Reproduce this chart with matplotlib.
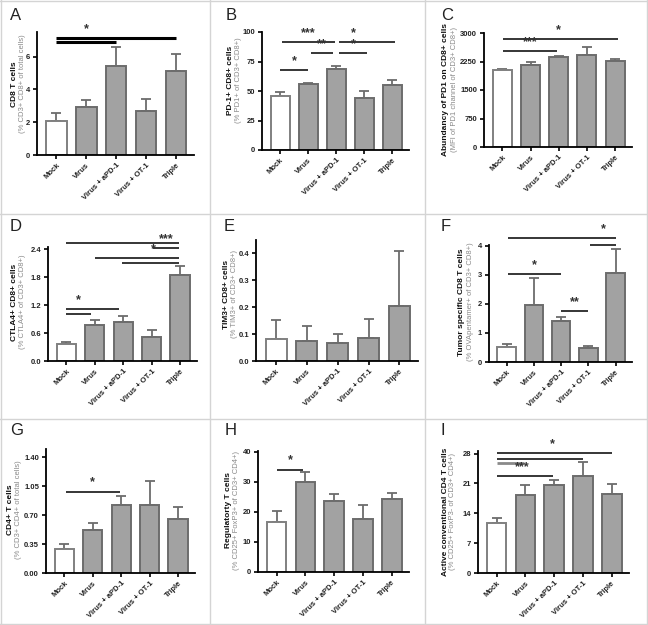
import numpy as np
import matplotlib
matplotlib.use('Agg')
import matplotlib.pyplot as plt
from matplotlib.lines import Line2D

plt.rcParams['font.family'] = ['Liberation Sans', 'DejaVu Sans']

groups = ['Mock', 'Virus', 'Virus + aPD-1', 'Virus + OT-1', 'Triple']

# mean and upper error (SEM) for each panel
cd8_mean = [2.08, 2.94, 5.41, 2.67, 5.10]
cd8_err = [0.47, 0.41, 1.16, 0.76, 1.08]
pd1_mean = [46, 56, 69, 44, 55]
pd1_err = [3, 1, 2, 6, 4]
mfi_mean = [2020, 2153, 2374, 2426, 2268]
mfi_err = [30, 97, 26, 204, 44]
ctla4_mean = [0.36, 0.78, 0.83, 0.52, 1.85]
ctla4_err = [0.05, 0.11, 0.13, 0.15, 0.20]
tim3_mean = [0.080, 0.075, 0.068, 0.085, 0.205]
tim3_err = [0.072, 0.057, 0.032, 0.070, 0.205]
ova_mean = [0.52, 1.95, 1.40, 0.47, 3.08]
ova_err = [0.10, 0.96, 0.16, 0.09, 0.80]
cd4_mean = [0.293, 0.525, 0.822, 0.818, 0.655]
cd4_err = [0.061, 0.085, 0.110, 0.292, 0.145]
treg_mean = [16.6, 29.9, 23.8, 17.6, 24.4]
treg_err = [3.8, 3.3, 2.2, 4.8, 2.0]
tconv_mean = [11.7, 18.35, 20.6, 22.7, 18.5]
tconv_err = [1.3, 2.25, 1.2, 3.3, 2.4]

# significance bars: (from, to, level, label, label x)
sig_a = [(0, 2, 6.92, '', 0), (0, 4, 7.12, '*', 1.0)]
sig_b = [(0.05, 1.95, 91.5, '***', 1.0), (2.1, 4.1, 91.5, '*', 2.6),
         (1.1, 1.9, 81.9, '**', 1.5), (2.1, 3.1, 81.9, '*', 2.6),
         (0, 0.98, 67.7, '*', 0.5)]
sig_c = [(0.04, 4.1, 2841, '*', 2.0), (0.04, 1.95, 2515, '***', 1.0)]
sig_d = [(0, 3.96, 2.53, '', 0), (3.05, 3.96, 2.43, '***', 3.5),
         (1.0, 3.96, 2.21, '*', 3.05), (1.97, 3.96, 2.11, '', 0),
         (0, 1.85, 1.107, '*', 0.43), (0, 0.85, 1.02, '', 0)]
sig_e = []
sig_f = [(0.06, 4.0, 4.26, '*', 3.56), (3.05, 4.0, 4.03, '', 0),
         (0.06, 2.0, 3.04, '*', 1.0), (2.0, 3.0, 1.74, '**', 2.5)]
sig_g = [(0.04, 1.96, 0.985, '*', 1.0)]
sig_h = [(0.02, 0.92, 34.1, '*', 0.49)]
sig_i = [(0, 4.0, 28.1, '*', 1.93), (0, 3.0, 26.7, '', 0),
         (0, 0.94, 25.9, '', 0), (0, 1.96, 22.7, '***', 0.9)]

W, H = 648, 625
fig = plt.figure(figsize=(W / 100, H / 100), dpi=100)

# panel frames
for xp in [1, 210, 425, 647]:
    fig.add_artist(Line2D([xp / W, xp / W], [0, 1], color='#d4d4d4', lw=1))
for yp in [1, 214, 419, 624]:
    fig.add_artist(Line2D([0, 1], [1 - yp / H, 1 - yp / H], color='#d4d4d4', lw=1))

fill = '#a2a2a2'
edge = '#6c6c6c'

panels = [
    # letter, letter pos, axes box (x0, top, x1, bottom), ylim top, ticks, tick fmt,
    # labels, label x, label y, data, sig, sig line width
    ('A', (10, 8), (37, 32, 194, 155), 7.5, [0, 2, 4, 6], '{:.0f}',
     'CD8 T cells', '(% CD3+ CD8+ of total cells)', (15, 23), 84, cd8_mean, cd8_err, sig_a, 2.2),
    ('B', (226, 8), (262, 32, 409, 150), 100, [0, 25, 50, 75, 100], '{:.0f}',
     'PD-1+ CD8+ cells', '(% PD1+ of CD3+ CD8+)', (231, 239), 80, pd1_mean, pd1_err, sig_b, 1.1),
    ('C', (441, 8), (484, 33, 632, 147), 3000, [0, 750, 1500, 2250, 3000], '{:.0f}',
     'Abundancy of PD1 on CD8+ cells', '(MFI of PD1 channel of CD3+ CD8+)', (446, 454), 89, mfi_mean, mfi_err, sig_c, 1.1),
    ('D', (10, 219), (48, 247, 197, 361), 2.45, [0, 0.6, 1.2, 1.8, 2.4], '{:.1f}',
     'CTLA4+ CD8+ cells', '(% CTLA4+ of CD3+ CD8+)', (15, 23), 302, ctla4_mean, ctla4_err, sig_d, 1.1),
    ('E', (224, 219), (256, 240, 418, 361), 0.45, [0, 0.1, 0.2, 0.3, 0.4], '{:.1f}',
     'TIM3+ CD8+ cells', '(% TIM3+ of CD3+ CD8+)', (226, 234), 294, tim3_mean, tim3_err, sig_e, 1.1),
    ('F', (441, 219), (489, 245, 632, 362), 4.03, [0, 1, 2, 3, 4], '{:.0f}',
     'Tumor specific CD8 T cells', '(% OVApentamer+ of CD3+ CD8+)', (462, 470), 302, ova_mean, ova_err, sig_f, 1.1),
    ('G', (10, 423), (46, 449, 195, 573), 1.5, [0, 0.35, 0.70, 1.05, 1.40], '{:.2f}',
     'CD4+ T cells', '(% CD3+ CD4+ of total cells)', (11, 19), 510, cd4_mean, cd4_err, sig_g, 1.1),
    ('H', (225, 423), (258, 451, 409, 572), 40.3, [0, 10, 20, 30, 40], '{:.0f}',
     'Regulatorty T cells', '(% CD25+ FoxP3+ of CD3+ CD4+)', (228, 236), 510, treg_mean, treg_err, sig_h, 1.1),
    ('I', (440, 423), (478, 451, 629, 573), 28.6, [0, 7, 14, 21, 28], '{:.0f}',
     'Active conventional CD4 T cells', '(% CD25+ FoxP3- of CD3+ CD4+)', (445, 453), 512, tconv_mean, tconv_err, sig_i, 1.1),
]

x = np.arange(len(groups))
for (letter, lpos, box, ytop, ticks, fmt, lab1, lab2, labx, laby,
     mean, err, sig, siglw) in panels:
    x0, t, x1, b = box
    ax = fig.add_axes([x0 / W, 1 - b / H, (x1 - x0) / W, (b - t) / H])
    colors = ['white'] + [fill] * 4
    edges = ['#808080'] + [edge] * 4
    ax.errorbar(x, mean, yerr=[np.zeros(5), err], fmt='none', ecolor=edge,
                elinewidth=1.3, capsize=3.5, capthick=1.3, zorder=1)
    ax.bar(x, mean, width=0.68, color=colors, edgecolor=edges, linewidth=1.4, zorder=2)
    ax.set_xlim(-0.65, 4.6)
    ax.set_ylim(0, ytop)
    ax.set_yticks(ticks)
    ax.set_yticklabels([fmt.format(v) for v in ticks])
    ax.set_xticks(x)
    ax.set_xticklabels(groups, rotation=45, ha='right', rotation_mode='anchor')
    for s in ['top', 'right']:
        ax.spines[s].set_visible(False)
    for s in ['left', 'bottom']:
        ax.spines[s].set_linewidth(1.3)
    ax.tick_params(length=3, width=1.2, labelsize=5.5, pad=2)
    for lbl in ax.get_xticklabels() + ax.get_yticklabels():
        lbl.set_fontweight('bold')
        lbl.set_color('#222222')

    for (a, bb, lev, txt, tx) in sig:
        gray_line = letter == 'I' and bb < 1
        ax.plot([a, bb], [lev, lev], color='#8a8a8a' if gray_line else 'black',
                lw=2.0 if gray_line else siglw, clip_on=False, solid_capstyle='butt')
        if txt:
            ax.text(tx, lev + ytop * 0.025, txt, ha='center', va='bottom',
                    fontsize=9, fontweight='bold', color='#333333')

    fig.text(labx[0] / W, 1 - laby / H, lab1, rotation=90, ha='center', va='center',
             fontsize=6, fontweight='bold', color='#111111')
    fig.text(labx[1] / W, 1 - laby / H, lab2, rotation=90, ha='center', va='center',
             fontsize=5.5, color='#8a8a8a')
    fig.text(lpos[0] / W, 1 - lpos[1] / H, letter, ha='left', va='top',
             fontsize=12, color='#222222')

fig.savefig('out.png', dpi=100)
